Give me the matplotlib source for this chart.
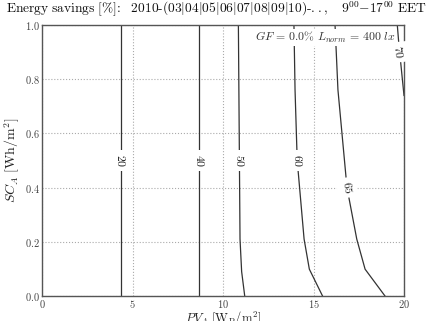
import matplotlib
matplotlib.use("Agg")
import matplotlib.pyplot as plt

plt.rcParams['mathtext.fontset'] = 'cm'
plt.rcParams['axes.formatter.use_mathtext'] = True
plt.rcParams['font.family'] = ['DejaVu Serif']

# contour lines: energy savings level -> (PV_A values, SC_A values)
levels = [20, 40, 50, 60, 65, 70]
pv_20 = [4.35, 4.35]
sc_20 = [0.0, 1.0]
pv_40 = [8.69, 8.69]
sc_40 = [0.0, 1.0]
pv_50 = [11.2, 11.03, 10.94, 10.85]
sc_50 = [0.0, 0.09, 0.21, 1.0]
pv_60 = [15.5, 14.77, 14.48, 14.1, 13.98, 13.92]
sc_60 = [0.0, 0.099, 0.21, 0.5, 0.761, 1.0]
pv_65 = [18.95, 17.85, 17.39, 16.85, 16.35, 16.19]
sc_65 = [0.0, 0.099, 0.21, 0.40, 0.761, 1.0]
pv_70 = [20.0, 19.72, 19.63]
sc_70 = [0.74, 0.926, 1.0]

# label positions (PV, SC) and rotation angle
label_pv = [4.35, 8.69, 10.9, 14.1, 16.85, 19.7]
label_sc = [0.5, 0.5, 0.5, 0.5, 0.40, 0.90]
label_rot = [-90, -90, -90, -90, -81, -84]

xticks = [0, 5, 10, 15, 20]
yticks = [0.0, 0.2, 0.4, 0.6, 0.8, 1.0]

fig = plt.figure(figsize=(4.26, 3.21), dpi=100)
ax = fig.add_axes([42/426, 25/321, 362/426, 271/321])

line_color = '#333333'
for pv, sc in [(pv_20, sc_20), (pv_40, sc_40), (pv_50, sc_50),
               (pv_60, sc_60), (pv_65, sc_65), (pv_70, sc_70)]:
    ax.plot(pv, sc, color=line_color, lw=0.9, zorder=2)

for lev, x, y, r in zip(levels, label_pv, label_sc, label_rot):
    ax.text(x, y, r'$%d$' % lev, rotation=r, fontsize=8.5, ha='center', va='center',
            rotation_mode='anchor', zorder=3, color='#222222',
            bbox=dict(boxstyle='square,pad=0.3', fc='white', ec='none'))

ax.set_xlim(0, 20)
ax.set_ylim(0, 1)
ax.set_xticks(xticks)
ax.set_yticks(yticks)
ax.set_xticklabels([r'$%d$' % v for v in xticks])
ax.set_yticklabels([r'$%.1f$' % v for v in yticks])
ax.tick_params(length=0, labelsize=7.5, pad=1.5, colors='#444444')
ax.grid(True, linestyle=':', color='#aaaaaa', lw=0.8)
for s in ax.spines.values():
    s.set_color('#555555')
    s.set_linewidth(1.0)

ax.set_xlabel(r'$PV_A\ [\mathrm{W_P/m^2}]$', fontsize=9, labelpad=-0.5, color='#222222')
ax.set_ylabel(r'$SC_A\ [\mathrm{Wh/m^2}]$', fontsize=10, labelpad=2, color='#222222')

ax.text(0.975, 0.955, r'$GF\,=\,0.0\%\ L_{norm}\,=\,400\ lx$', transform=ax.transAxes,
        ha='right', va='center', fontsize=8.5, color='#333333', zorder=4,
        bbox=dict(boxstyle='square,pad=0.1', fc='white', ec='none'))

fig.text(0.508, 0.972,
         r'$\mathrm{Energy\ savings\ [\%]\!:\ \ 2010\text{-}(03|04|05|06|07|08|09|10)\text{-}..,\ \ \ 9^{00}{-}17^{00}\ EET}$',
         ha='center', va='center', fontsize=9.7, color='#111111')

fig.savefig('out.png', dpi=100)
